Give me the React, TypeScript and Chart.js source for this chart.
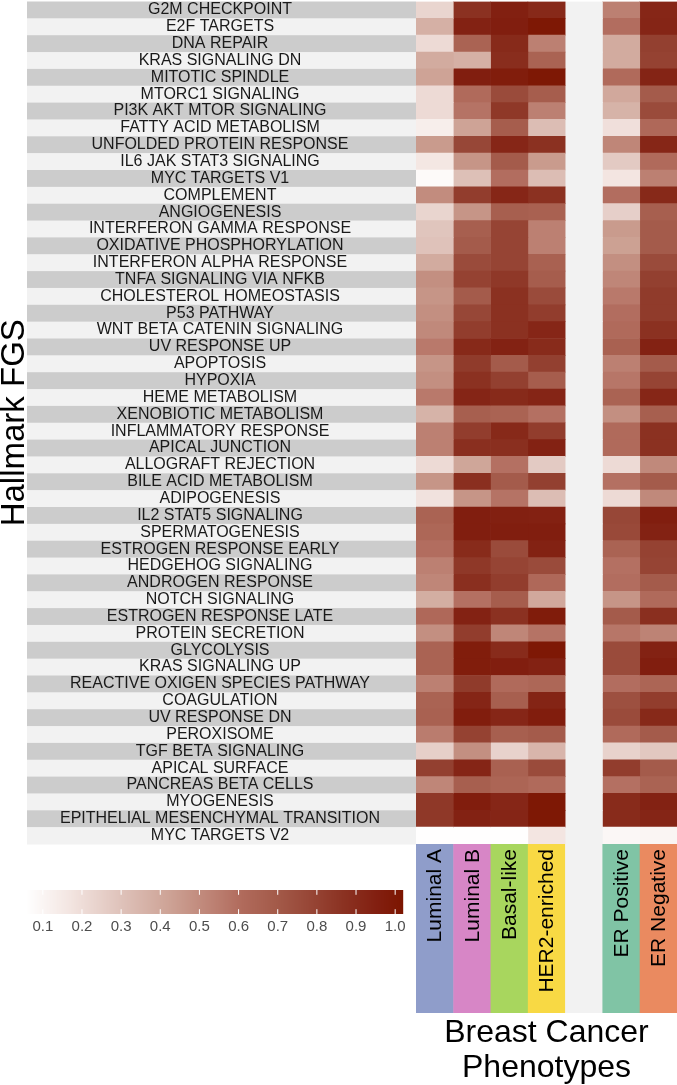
import React, { useEffect, useRef } from 'react';
import { Chart, registerables } from 'chart.js';

Chart.register(...registerables);

const hallmarks = [
  'G2M CHECKPOINT', 'E2F TARGETS', 'DNA REPAIR', 'KRAS SIGNALING DN', 'MITOTIC SPINDLE',
  'MTORC1 SIGNALING', 'PI3K AKT MTOR SIGNALING', 'FATTY ACID METABOLISM', 'UNFOLDED PROTEIN RESPONSE',
  'IL6 JAK STAT3 SIGNALING', 'MYC TARGETS V1', 'COMPLEMENT', 'ANGIOGENESIS', 'INTERFERON GAMMA RESPONSE',
  'OXIDATIVE PHOSPHORYLATION', 'INTERFERON ALPHA RESPONSE', 'TNFA SIGNALING VIA NFKB',
  'CHOLESTEROL HOMEOSTASIS', 'P53 PATHWAY', 'WNT BETA CATENIN SIGNALING', 'UV RESPONSE UP',
  'APOPTOSIS', 'HYPOXIA', 'HEME METABOLISM', 'XENOBIOTIC METABOLISM', 'INFLAMMATORY RESPONSE',
  'APICAL JUNCTION', 'ALLOGRAFT REJECTION', 'BILE ACID METABOLISM', 'ADIPOGENESIS',
  'IL2 STAT5 SIGNALING', 'SPERMATOGENESIS', 'ESTROGEN RESPONSE EARLY', 'HEDGEHOG SIGNALING',
  'ANDROGEN RESPONSE', 'NOTCH SIGNALING', 'ESTROGEN RESPONSE LATE', 'PROTEIN SECRETION',
  'GLYCOLYSIS', 'KRAS SIGNALING UP', 'REACTIVE OXIGEN SPECIES PATHWAY', 'COAGULATION',
  'UV RESPONSE DN', 'PEROXISOME', 'TGF BETA SIGNALING', 'APICAL SURFACE', 'PANCREAS BETA CELLS',
  'MYOGENESIS', 'EPITHELIAL MESENCHYMAL TRANSITION', 'MYC TARGETS V2',
];

const phenotypes = ['Luminal A', 'Luminal B', 'Basal-like', 'HER2-enriched', '', 'ER Positive', 'ER Negative'];
const phenotypeColors = ['#8f9dca', '#d786c6', '#a8d65e', '#f8d944', '#f2f2f2', '#80c4a5', '#ea8a60'];

const luminalA = [0.23, 0.37, 0.21, 0.39, 0.42, 0.21, 0.21, 0.13, 0.45, 0.16, 0.08, 0.50, 0.23, 0.29, 0.30, 0.39, 0.49, 0.47, 0.49, 0.51, 0.56, 0.47, 0.49, 0.56, 0.36, 0.54, 0.54, 0.21, 0.47, 0.18, 0.65, 0.63, 0.60, 0.54, 0.52, 0.38, 0.62, 0.49, 0.65, 0.65, 0.54, 0.65, 0.66, 0.55, 0.25, 0.81, 0.52, 0.84, 0.84, 0.06];
const luminalB = [0.87, 0.94, 0.65, 0.37, 0.96, 0.61, 0.58, 0.42, 0.78, 0.47, 0.31, 0.82, 0.47, 0.67, 0.69, 0.76, 0.80, 0.69, 0.78, 0.82, 0.91, 0.83, 0.87, 0.925, 0.67, 0.82, 0.88, 0.41, 0.88, 0.47, 0.96, 0.96, 0.90, 0.84, 0.88, 0.59, 0.94, 0.82, 0.97, 0.97, 0.83, 0.925, 0.965, 0.80, 0.49, 0.925, 0.67, 0.965, 0.94, 0.06];
const basalLike = [0.95, 0.96, 0.905, 0.89, 0.97, 0.76, 0.84, 0.68, 0.92, 0.69, 0.60, 0.92, 0.67, 0.79, 0.79, 0.79, 0.84, 0.87, 0.87, 0.87, 0.94, 0.69, 0.81, 0.905, 0.65, 0.91, 0.88, 0.59, 0.69, 0.58, 0.95, 0.96, 0.76, 0.79, 0.82, 0.68, 0.87, 0.52, 0.90, 0.96, 0.61, 0.67, 0.92, 0.67, 0.24, 0.66, 0.64, 0.92, 0.925, 0.06];
const her2Enriched = [0.91, 1.00, 0.54, 0.65, 1.00, 0.68, 0.54, 0.32, 0.87, 0.45, 0.32, 0.87, 0.66, 0.54, 0.54, 0.66, 0.68, 0.76, 0.82, 0.92, 0.90, 0.81, 0.68, 0.925, 0.59, 0.82, 0.94, 0.27, 0.81, 0.32, 0.945, 0.96, 0.94, 0.76, 0.62, 0.40, 0.975, 0.58, 1.00, 0.94, 0.63, 0.93, 0.965, 0.69, 0.35, 0.76, 0.61, 1.00, 1.00, 0.17];
const erPositive = [0.54, 0.60, 0.39, 0.39, 0.61, 0.40, 0.36, 0.19, 0.52, 0.27, 0.17, 0.60, 0.25, 0.45, 0.43, 0.49, 0.52, 0.56, 0.60, 0.61, 0.66, 0.54, 0.57, 0.65, 0.49, 0.61, 0.61, 0.21, 0.59, 0.21, 0.78, 0.77, 0.65, 0.59, 0.60, 0.47, 0.69, 0.57, 0.76, 0.76, 0.60, 0.74, 0.76, 0.61, 0.24, 0.82, 0.59, 0.90, 0.90, 0.09];
const erNegative = [0.92, 0.925, 0.81, 0.80, 0.93, 0.69, 0.76, 0.62, 0.92, 0.61, 0.54, 0.91, 0.67, 0.69, 0.69, 0.76, 0.81, 0.83, 0.83, 0.87, 0.94, 0.69, 0.79, 0.92, 0.67, 0.87, 0.87, 0.51, 0.69, 0.51, 0.96, 0.94, 0.80, 0.79, 0.69, 0.61, 0.88, 0.53, 0.94, 0.96, 0.64, 0.82, 0.91, 0.69, 0.28, 0.69, 0.65, 0.94, 0.925, 0.10];

const columns = [luminalA, luminalB, basalLike, her2Enriched, null, erPositive, erNegative];

const legendTicks = [0.1, 0.2, 0.3, 0.4, 0.5, 0.6, 0.7, 0.8, 0.9, 1.0];
const legendMin = 0.057;
const legendMax = 1.02;

// colour-scale stops (value, colour)
const scaleStopValues = [0.057, 0.169, 0.297, 0.425, 0.545, 0.611, 0.698, 0.783, 0.867, 0.954, 1.02];
const scaleStopColors = ['#ffffff', '#f3e5e1', '#dfc3bb', '#cda295', '#bb7e70', '#b06a5b', '#a35a49', '#974636', '#8b3222', '#821f10', '#7c1500'];

const FONT = '"Liberation Sans", Arial, Helvetica, sans-serif';

function hexToRgb(h: string) {
  const n = parseInt(h.slice(1), 16);
  return [(n >> 16) & 255, (n >> 8) & 255, n & 255];
}
const stopRgb = scaleStopColors.map(hexToRgb);

function colorFor(v: number) {
  const vs = scaleStopValues;
  if (v <= vs[0]) return scaleStopColors[0];
  if (v >= vs[vs.length - 1]) return scaleStopColors[vs.length - 1];
  let i = 0;
  while (i < vs.length - 2 && v > vs[i + 1]) i++;
  const t = (v - vs[i]) / (vs[i + 1] - vs[i]);
  const a = stopRgb[i], b = stopRgb[i + 1];
  const c = [0, 1, 2].map((k) => Math.round(a[k] + (b[k] - a[k]) * t));
  return `rgb(${c[0]},${c[1]},${c[2]})`;
}

const AXIS_W = 416;
const STRIPE_X = 27;
const PHENO_H = 169;

const decorPlugin = {
  id: 'decor',
  beforeDraw(chart: any) {
    const { ctx, chartArea } = chart;
    const y = chart.scales.y;
    const n = hallmarks.length;
    const h = (chartArea.bottom - chartArea.top) / n;
    ctx.save();
    for (let i = 0; i < n; i++) {
      const yc = y.getPixelForValue(i);
      ctx.fillStyle = i % 2 === 0 ? '#cccccc' : '#f2f2f2';
      ctx.fillRect(STRIPE_X, yc - h / 2, AXIS_W - STRIPE_X, h + 0.5);
    }
    ctx.restore();
  },
  afterDraw(chart: any) {
    const { ctx, chartArea } = chart;
    const x = chart.scales.x;
    ctx.save();
    for (let i = 0; i < phenotypes.length; i++) {
      const x0 = x.getPixelForValue(i);
      const x1 = x.getPixelForValue(i + 1);
      ctx.fillStyle = phenotypeColors[i];
      ctx.fillRect(x0, chartArea.bottom, x1 - x0 + 0.5, PHENO_H);
      if (phenotypes[i]) {
        ctx.save();
        ctx.translate((x0 + x1) / 2, chartArea.bottom + 5);
        ctx.rotate(-Math.PI / 2);
        ctx.fillStyle = '#000000';
        ctx.font = `21px ${FONT}`;
        ctx.textAlign = 'right';
        ctx.textBaseline = 'middle';
        ctx.fillText(phenotypes[i], 0, 1);
        ctx.restore();
      }
    }
    const lx0 = 26, lx1 = 403, ly0 = 890, ly1 = 914;
    const steps = lx1 - lx0;
    for (let s = 0; s < steps; s++) {
      const v = legendMin + ((s + 0.5) / steps) * (legendMax - legendMin);
      ctx.fillStyle = colorFor(v);
      ctx.fillRect(lx0 + s, ly0, 1.2, ly1 - ly0);
    }
    ctx.strokeStyle = '#ffffff';
    ctx.lineWidth = 1;
    ctx.fillStyle = '#4d4d4d';
    ctx.font = `15px ${FONT}`;
    ctx.textAlign = 'center';
    ctx.textBaseline = 'middle';
    for (const t of legendTicks) {
      const px = lx0 + ((t - legendMin) / (legendMax - legendMin)) * (lx1 - lx0);
      ctx.beginPath();
      ctx.moveTo(px, ly0);
      ctx.lineTo(px, ly0 + 4.8);
      ctx.moveTo(px, ly1);
      ctx.lineTo(px, ly1 - 4.8);
      ctx.stroke();
      ctx.fillText(t.toFixed(1), px, 927);
    }
    ctx.restore();
  },
};

export default function App() {
  const ref = useRef<HTMLCanvasElement | null>(null);
  useEffect(() => {
    const canvas = ref.current;
    if (!canvas) return;
    const mctx = canvas.getContext('2d')!;
    mctx.font = `16px ${FONT}`;
    let widest = 0;
    for (const l of hallmarks) widest = Math.max(widest, mctx.measureText(l).width);
    const labelPad = Math.max(0, AXIS_W - 220 - widest / 2);

    const datasets = columns.map((col, ci) => ({
      label: phenotypes[ci] || 'gap',
      data: hallmarks.map(() => 1),
      backgroundColor: col ? col.map((v) => colorFor(v)) : hallmarks.map(() => '#f2f2f2'),
      borderWidth: 0,
      barPercentage: 1,
      categoryPercentage: 1,
    }));

    const chart = new Chart(canvas, {
      type: 'bar',
      data: { labels: hallmarks, datasets },
      options: {
        indexAxis: 'y',
        animation: false,
        responsive: false,
        maintainAspectRatio: false,
        layout: { padding: { top: 1.5, left: 0, right: 0, bottom: 0 } },
        plugins: { legend: { display: false }, tooltip: { enabled: false } },
        scales: {
          x: {
            type: 'linear',
            stacked: true,
            min: 0,
            max: 7,
            grid: { display: false, drawTicks: false },
            border: { display: false },
            ticks: { display: false },
            title: {
              display: true,
              text: ['Breast Cancer', 'Phenotypes'],
              color: '#000000',
              font: { family: FONT, size: 32, lineHeight: 1.08 },
              padding: { top: 0, bottom: 0 },
            },
            afterFit: (s: any) => {
              s.height = 1085 - 1.5 - 842.5;
              s.paddingLeft = 0;
              s.paddingRight = 0;
            },
          },
          y: {
            type: 'category',
            stacked: true,
            grid: { display: false, drawTicks: false },
            border: { display: false },
            ticks: {
              autoSkip: false,
              color: '#1a1a1a',
              font: { family: FONT, size: 16 },
              crossAlign: 'center',
              padding: labelPad,
            },
            title: {
              display: true,
              text: 'Hallmark FGS',
              color: '#000000',
              font: { family: FONT, size: 33, lineHeight: 0.9 },
              padding: 0,
            },
            afterFit: (s: any) => {
              s.width = AXIS_W;
              s.paddingTop = 0;
              s.paddingBottom = 0;
            },
          },
        },
      } as any,
      plugins: [decorPlugin],
    });
    return () => chart.destroy();
  }, []);

  return (
    <div style={{ position: 'absolute', left: 0, top: 0, width: 677, height: 1085, background: '#ffffff' }}>
      <canvas ref={ref} width={677} height={1085} style={{ width: 677, height: 1085, display: 'block' }} />
    </div>
  );
}
